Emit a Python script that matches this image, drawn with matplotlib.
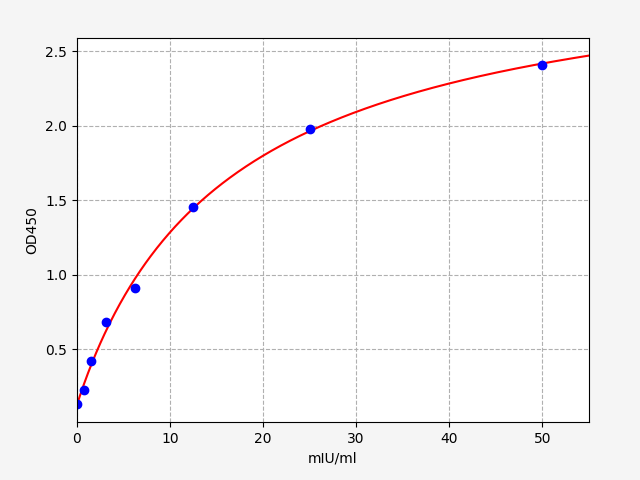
import matplotlib
matplotlib.use('Agg')
import matplotlib.pyplot as plt
import numpy as np

# standard curve data
conc = [0, 0.78, 1.56, 3.125, 6.25, 12.5, 25, 50]
od450 = [0.13, 0.224, 0.42, 0.68, 0.91, 1.456, 1.98, 2.41]


def four_pl(x, a, b, c, d):
    return d + (a - d) / (1.0 + (np.maximum(x, 1e-12) / c) ** b)


def fit_four_pl(x, y, p0, n_iter=200):
    """Small Levenberg-Marquardt fit of a 4PL curve"""
    x = np.asarray(x, float)
    y = np.asarray(y, float)
    p = np.array(p0, float)
    lam = 1e-2
    for _ in range(n_iter):
        r = y - four_pl(x, *p)
        J = np.empty((len(x), 4))
        for k in range(4):
            dp = np.zeros(4)
            dp[k] = 1e-6 * max(abs(p[k]), 1.0)
            J[:, k] = (four_pl(x, *(p + dp)) - four_pl(x, *p)) / dp[k]
        A = J.T @ J
        g = J.T @ r
        step = np.linalg.solve(A + lam * np.diag(np.diag(A)), g)
        p_new = p + step
        if p_new[2] > 0 and np.sum((y - four_pl(x, *p_new)) ** 2) < np.sum(r ** 2):
            p = p_new
            lam *= 0.5
        else:
            lam *= 4
    return p


params = fit_four_pl(conc, od450, [0.13, 1.0, 15.0, 3.0])

fig = plt.figure(figsize=(6.4, 4.8), dpi=100, facecolor='#f5f5f5')
ax = fig.add_axes([0.120, 0.121, 0.800, 0.800])

x_smooth = np.linspace(0, 55, 500)
ax.plot(x_smooth, four_pl(x_smooth, *params), color='red', linewidth=1.5)
ax.plot(conc, od450, 'o', color='blue', markersize=6)

ax.set_xlim(0, 55)
ax.set_ylim(0.012, 2.59)
ax.set_xlabel('mIU/ml')
ax.set_ylabel('OD450')
ax.grid(True, linestyle='--', color='#b0b0b0')

plt.savefig('out.png', dpi=100, facecolor=fig.get_facecolor())
